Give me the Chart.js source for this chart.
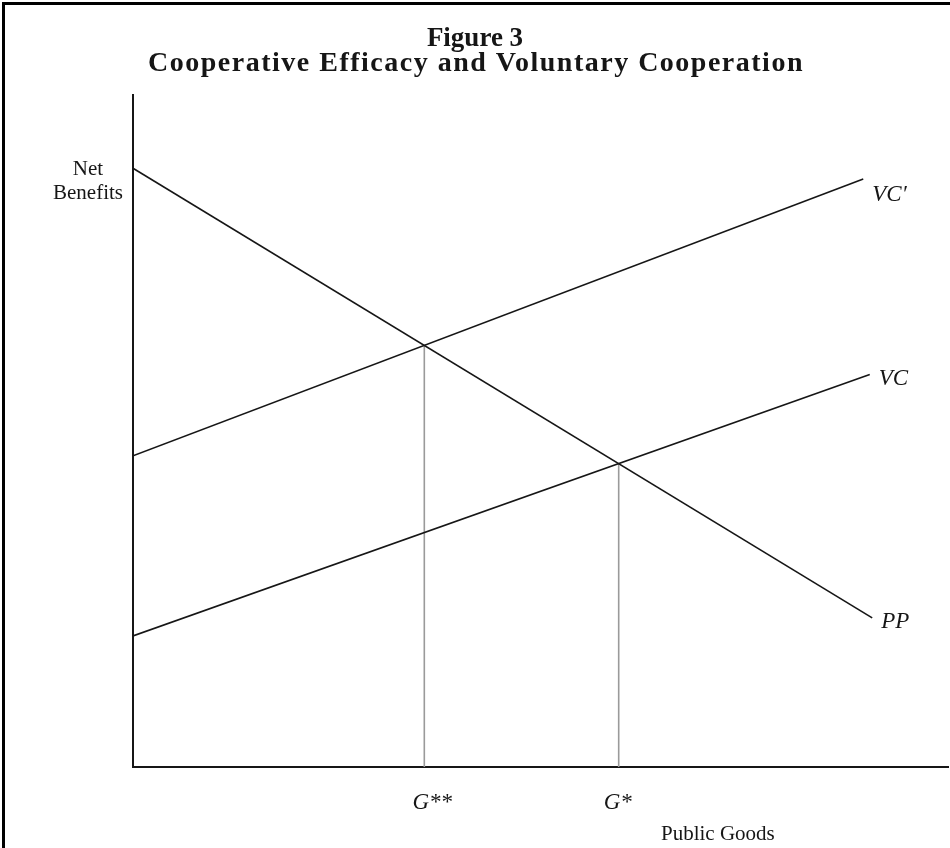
<!DOCTYPE html>
<html>
<head>
<meta charset="utf-8">
<title>Figure 3</title>
<script src="https://cdn.jsdelivr.net/npm/chart.js@4.4.1/dist/chart.umd.min.js"></script>
<style>
  html, body { margin: 0; padding: 0; background: #fff; }
  #wrap { position: relative; width: 950px; height: 848px; overflow: hidden; }
  #frame {
    position: absolute; left: 2px; top: 2px; width: 1000px; height: 1000px;
    border: 3px solid #000; box-sizing: border-box; pointer-events: none;
  }
  canvas { position: absolute; left: 0; top: 0; }
</style>
</head>
<body>
<div id="wrap">
  <canvas id="fig" width="950" height="848"></canvas>
  <div id="frame"></div>
</div>
<script>
// ============================================================
// DATA (axis units, 0..100 on both axes)
// ============================================================

const titleLines = ["Figure 3", "Cooperative Efficacy and Voluntary Cooperation"];
const yAxisLabel = ["Net", "Benefits"];
const xAxisLabel = "Public Goods";

const ppX = [0, 90.7];
const ppY = [89.1, 22.2];

const vcPrimeX = [0, 89.6];
const vcPrimeY = [46.3, 87.5];

const vcX = [0, 90.4];
const vcY = [19.5, 58.4];

const curveNames = ["PP", "VC\u2032", "VC"];
const dropNames = ["G**", "G*"];

const SERIF = "'Liberation Serif', 'DejaVu Serif', serif";
const INK = "#161616";


// ============================================================
// HELPERS
// ============================================================

function pts(xs, ys) {
  return xs.map((x, i) => ({ x: x, y: ys[i] }));
}

// crossing point of two straight lines given by two points each
function crossing(ax, ay, bx, by) {
  const m1 = (ay[1] - ay[0]) / (ax[1] - ax[0]);
  const m2 = (by[1] - by[0]) / (bx[1] - bx[0]);
  const c1 = ay[0] - m1 * ax[0];
  const c2 = by[0] - m2 * bx[0];
  const x = (c2 - c1) / (m1 - m2);
  return { x: x, y: m1 * x + c1 };
}

const gStarStar = crossing(ppX, ppY, vcPrimeX, vcPrimeY);
const gStar = crossing(ppX, ppY, vcX, vcY);


// ============================================================
// TEXT PLUGIN (title, curve names, axis titles)
// ============================================================

const labelPlugin = {
  id: "labels",
  afterDraw(chart) {
    const { ctx, chartArea, scales, width } = chart;
    const sx = scales.x, sy = scales.y;
    ctx.save();
    ctx.fillStyle = INK;

    // title, two centred lines
    ctx.textAlign = "center";
    ctx.textBaseline = "alphabetic";
    ctx.font = "bold 27px " + SERIF;
    ctx.fillText(titleLines[0], width / 2, 46);
    ctx.font = "bold 28px " + SERIF;
    ctx.letterSpacing = "1.5px";
    ctx.fillText(titleLines[1], width / 2 + 1, 71);
    ctx.letterSpacing = "0px";

    // curve labels, just past each line's end
    ctx.font = "italic 23px " + SERIF;
    ctx.textAlign = "left";
    ctx.textBaseline = "middle";
    const ends = [
      [curveNames[0], ppX[1], ppY[1], 4],
      [curveNames[1], vcPrimeX[1], vcPrimeY[1], 16],
      [curveNames[2], vcX[1], vcY[1], 4]
    ];
    ends.forEach(([name, x, y, dy]) => {
      ctx.fillText(name, sx.getPixelForValue(x) + 9, sy.getPixelForValue(y) + dy);
    });

    // equilibrium labels under the axis
    ctx.textAlign = "center";
    ctx.textBaseline = "alphabetic";
    ctx.fillText(dropNames[0], sx.getPixelForValue(gStarStar.x) + 8, chartArea.bottom + 42);
    ctx.fillText(dropNames[1], sx.getPixelForValue(gStar.x) - 1, chartArea.bottom + 42);

    // axis titles
    ctx.font = "21px " + SERIF;
    ctx.textAlign = "left";
    ctx.fillText(xAxisLabel, 661, chartArea.bottom + 73);

    ctx.textAlign = "center";
    ctx.fillText(yAxisLabel[0], chartArea.left - 45, sy.getPixelForValue(ppY[0]) + 7);
    ctx.fillText(yAxisLabel[1], chartArea.left - 45, sy.getPixelForValue(ppY[0]) + 31);

    ctx.restore();
  }
};


// ============================================================
// CHART
// ============================================================

const lineStyle = { borderColor: INK, borderWidth: 1.6, showLine: true, pointRadius: 0, fill: false };
const dropStyle = { borderColor: "#9a9a9a", borderWidth: 1.6, showLine: true, pointRadius: 0, fill: false };

new Chart(document.getElementById("fig"), {
  type: "scatter",
  data: {
    datasets: [
      { label: curveNames[0], data: pts(ppX, ppY), ...lineStyle },
      { label: curveNames[1], data: pts(vcPrimeX, vcPrimeY), ...lineStyle },
      { label: curveNames[2], data: pts(vcX, vcY), ...lineStyle },
      { label: dropNames[0], data: [{ x: gStarStar.x, y: 0 }, { x: gStarStar.x, y: gStarStar.y }], ...dropStyle },
      { label: dropNames[1], data: [{ x: gStar.x, y: 0 }, { x: gStar.x, y: gStar.y }], ...dropStyle }
    ]
  },
  options: {
    responsive: false,
    animation: false,
    devicePixelRatio: 1,
    layout: { padding: { left: 0, right: 2, top: 95, bottom: 0 } },
    plugins: {
      legend: { display: false },
      tooltip: { enabled: false },
      title: { display: false }
    },
    scales: {
      x: {
        type: "linear", min: 0, max: 100,
        ticks: { display: false },
        grid: { display: false },
        border: { display: true, color: INK, width: 2 },
        afterFit: s => { s.height = 81; }
      },
      y: {
        type: "linear", min: 0, max: 100,
        ticks: { display: false },
        grid: { display: false },
        border: { display: true, color: INK, width: 2 },
        afterFit: s => { s.width = 133; }
      }
    }
  },
  plugins: [labelPlugin]
});
</script>
</body>
</html>
